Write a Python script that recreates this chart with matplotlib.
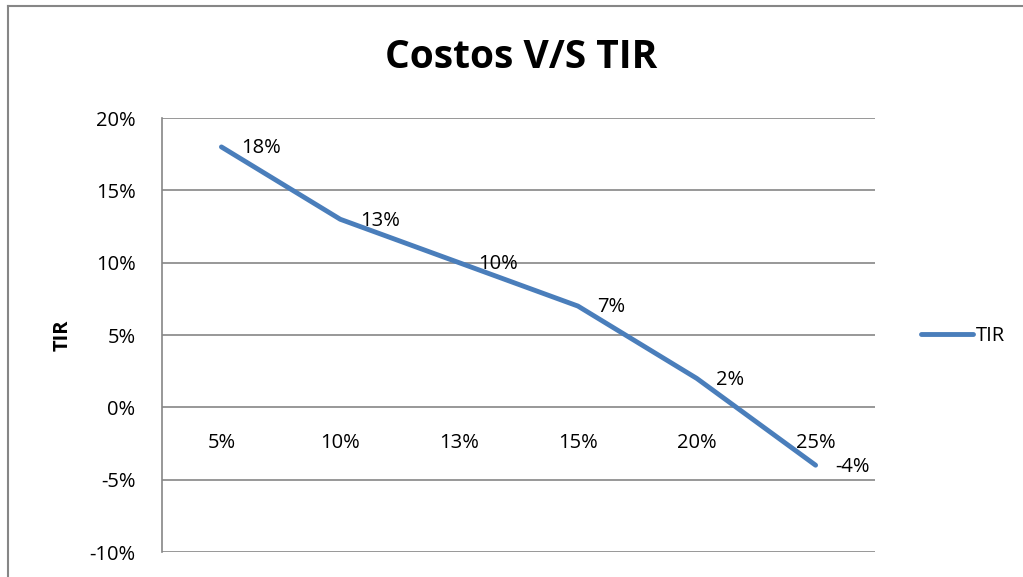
import matplotlib
matplotlib.use("Agg")
import matplotlib.pyplot as plt
from matplotlib.ticker import FuncFormatter

plt.rcParams['font.family'] = ['Open Sans', 'DejaVu Sans']
plt.rcParams['axes.unicode_minus'] = False

# Data
categories = ['5%', '10%', '13%', '15%', '20%', '25%']
tir = [18, 13, 10, 7, 2, -4]
point_labels = ['18%', '13%', '10%', '7%', '2%', '-4%']

line_color = '#4A7EBB'
grid_color = '#868686'
fs = 14.5

fig = plt.figure(figsize=(10.23, 5.77), dpi=100)
W, H = 1023, 577

# outer chart frame (only left/top edges visible in the original)
fig.add_artist(plt.Line2D([8 / W, 8 / W], [0, 1 - 6 / H], transform=fig.transFigure,
                          color=grid_color, lw=1.5))
fig.add_artist(plt.Line2D([8 / W, 1], [1 - 6 / H, 1 - 6 / H], transform=fig.transFigure,
                          color=grid_color, lw=1.5))

ax = fig.add_axes([162 / W, (H - 552) / H, 713 / W, 434 / H])

x = list(range(len(categories)))
ax.plot(x, tir, color=line_color, lw=3.5, solid_capstyle='round', label='TIR')

for xi, yi, lab in zip(x, tir, point_labels):
    ax.annotate(lab, (xi, yi), xytext=(14, -1), textcoords='offset points',
                ha='left', va='center', fontsize=fs)

ax.set_xlim(-0.5, len(categories) - 0.5)
ax.set_ylim(-10, 20)
ax.set_yticks(range(-10, 21, 5))
ax.yaxis.set_major_formatter(FuncFormatter(lambda v, p: f'{v:.0f}%'))
ax.grid(axis='y', color=grid_color, lw=1.2)
ax.set_axisbelow(True)

for side in ['top', 'right', 'bottom']:
    ax.spines[side].set_visible(False)
ax.spines['left'].set_color(grid_color)
ax.spines['left'].set_linewidth(1.2)

ax.tick_params(axis='y', length=0, pad=19, labelsize=fs)
ax.set_xticks([])

# category labels sit just below the zero line
for xi, c in zip(x, categories):
    ax.annotate(c, (xi, 0), xytext=(0, -26), textcoords='offset points',
                ha='center', va='center', fontsize=fs)

ax.set_ylabel('TIR', fontsize=fs, fontweight='bold', labelpad=12)
fig.text(521 / W, 1 - 57 / H, 'Costos V/S TIR', ha='center', va='center',
         fontsize=28, fontweight='bold')

fig.legend(loc='center left', bbox_to_anchor=(903 / W, 1 - 336 / H), frameon=False,
           fontsize=fs, handlelength=2.6, handletextpad=0.1)

fig.savefig('out.png', dpi=100)
